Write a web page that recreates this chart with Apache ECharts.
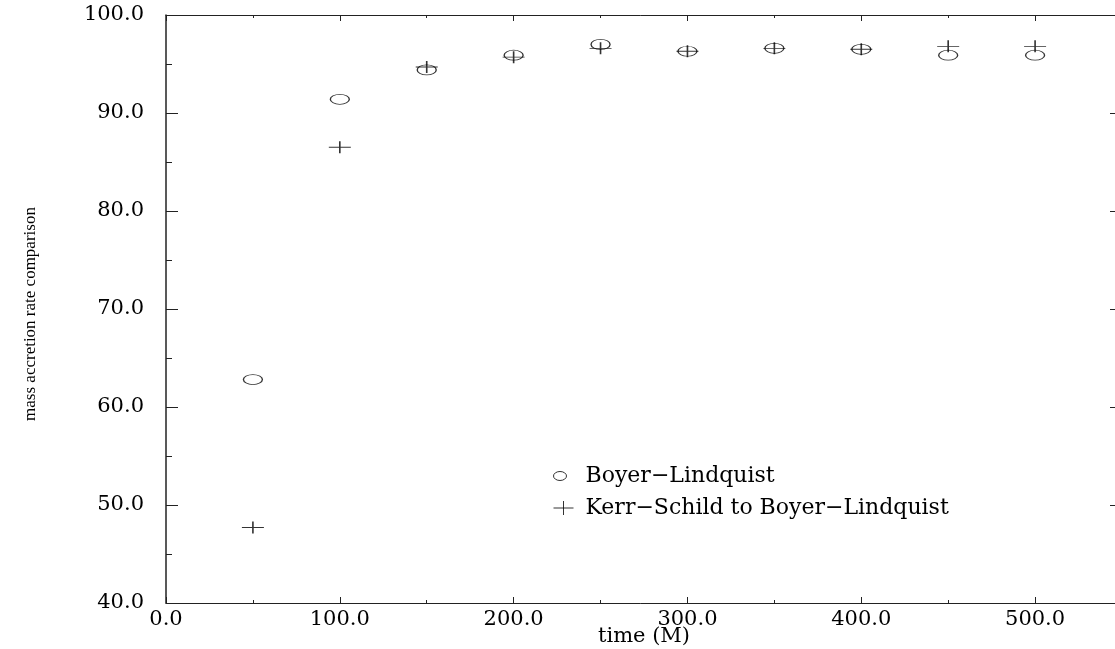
<!DOCTYPE html>
<html>
<head>
<meta charset="utf-8">
<script src="https://cdn.jsdelivr.net/npm/echarts@6/dist/echarts.min.js"></script>
<style>
html,body{margin:0;padding:0;background:#fff;}
#chart{width:1115px;height:649px;}
</style>
</head>
<body>
<div id="chart"></div>
<script>
const timeValues = [50, 100, 150, 200, 250, 300, 350, 400, 450, 500];
const boyerLindquist = [62.8, 91.4, 94.4, 95.9, 97.0, 96.3, 96.6, 96.5, 95.9, 95.9];
const kerrSchildToBL = [47.7, 86.5, 94.7, 95.7, 96.6, 96.3, 96.6, 96.5, 96.8, 96.8];
const seriesNames = ['Boyer\u2212Lindquist', 'Kerr\u2212Schild to Boyer\u2212Lindquist'];
const xAxisName = 'time (M)';
const yAxisName = 'mass accretion rate comparison';

const tickFont = { fontFamily: 'DejaVu Serif', fontSize: 21, color: '#000' };
const ellipsePath = 'path://M0,1A1,1,0,1,1,2,1A1,1,0,1,1,0,1';
const crossPath = 'path://M0,6L22,6M11,0L11,12';

const chart = echarts.init(document.getElementById('chart'), null, { renderer: 'canvas' });
chart.setOption({
  animation: false,
  backgroundColor: '#fff',
  grid: { left: 166, top: 15, width: 956, height: 588, containLabel: false, outerBoundsMode: 'none' },
  legend: {
    orient: 'vertical',
    left: 553,
    top: 465,
    padding: 0,
    itemGap: 10,
    itemWidth: 27,
    itemHeight: 14,
    textStyle: { fontFamily: 'DejaVu Serif', fontSize: 22, lineHeight: 22, color: '#000' },
    data: [
      { name: seriesNames[0], icon: 'path://M0,0M27,14M0,7A6.5,4.5,0,1,1,13,7A6.5,4.5,0,1,1,0,7',
        itemStyle: { color: 'transparent', borderColor: '#000', borderWidth: 1 } },
      { name: seriesNames[1], icon: 'path://M0,7L20,7M10,0L10,14M27,0',
        itemStyle: { color: 'transparent', borderColor: '#000', borderWidth: 1 } }
    ]
  },
  xAxis: [
    {
      type: 'value', position: 'bottom', min: 0, max: 550, interval: 100,
      name: xAxisName, nameLocation: 'middle', nameGap: 23, nameMoveOverlap: false,
      nameTextStyle: { fontFamily: 'DejaVu Serif', fontSize: 21, color: '#000' },
      axisLine: { show: true, onZero: false, lineStyle: { color: '#222', width: 1 } },
      axisTick: { show: true, inside: true, length: 6, lineStyle: { color: '#222', width: 1 } },
      minorTick: { show: true, splitNumber: 2, length: 3, lineStyle: { color: '#222', width: 1 } },
      axisLabel: Object.assign({ margin: 6, showMaxLabel: false, formatter: v => v.toFixed(1) }, tickFont),
      splitLine: { show: false }
    },
    {
      type: 'value', position: 'top', min: 0, max: 550, interval: 100,
      axisLine: { show: true, onZero: false, lineStyle: { color: '#222', width: 1 } },
      axisTick: { show: true, inside: true, length: 6, lineStyle: { color: '#222', width: 1 } },
      minorTick: { show: true, splitNumber: 2, length: 3, lineStyle: { color: '#222', width: 1 } },
      axisLabel: { show: false },
      splitLine: { show: false }
    }
  ],
  yAxis: [
    {
      type: 'value', position: 'left', min: 40, max: 100, interval: 10,
      name: yAxisName, nameLocation: 'middle', nameGap: 127, nameRotate: 90, nameMoveOverlap: false,
      nameTextStyle: { fontFamily: 'Liberation Serif', fontSize: 17, color: '#000', padding: [0, 10, 0, 0] },
      axisLine: { show: true, onZero: false, lineStyle: { color: '#222', width: 1.5 } },
      axisTick: { show: true, inside: true, length: 12, lineStyle: { color: '#222', width: 1 } },
      minorTick: { show: true, splitNumber: 2, length: 6, lineStyle: { color: '#222', width: 1 } },
      axisLabel: Object.assign({ margin: 22, formatter: v => v.toFixed(1) }, tickFont),
      splitLine: { show: false }
    },
    {
      type: 'value', position: 'right', min: 40, max: 100, interval: 10,
      axisLine: { show: true, onZero: false, lineStyle: { color: '#222', width: 1.5 } },
      axisTick: { show: true, inside: true, length: 12, lineStyle: { color: '#222', width: 1 } },
      minorTick: { show: true, splitNumber: 2, length: 6, lineStyle: { color: '#222', width: 1 } },
      axisLabel: { show: false },
      splitLine: { show: false }
    }
  ],
  series: [
    {
      name: seriesNames[0], type: 'scatter',
      symbol: ellipsePath, symbolSize: [19, 10],
      itemStyle: { color: 'transparent', borderColor: '#000', borderWidth: 1 },
      data: timeValues.map((t, i) => [t, boyerLindquist[i]])
    },
    {
      name: seriesNames[1], type: 'scatter',
      symbol: crossPath, symbolSize: [22, 12],
      itemStyle: { color: 'transparent', borderColor: '#000', borderWidth: 1.2 },
      data: timeValues.map((t, i) => [t, kerrSchildToBL[i]])
    }
  ]
});
</script>
</body>
</html>
